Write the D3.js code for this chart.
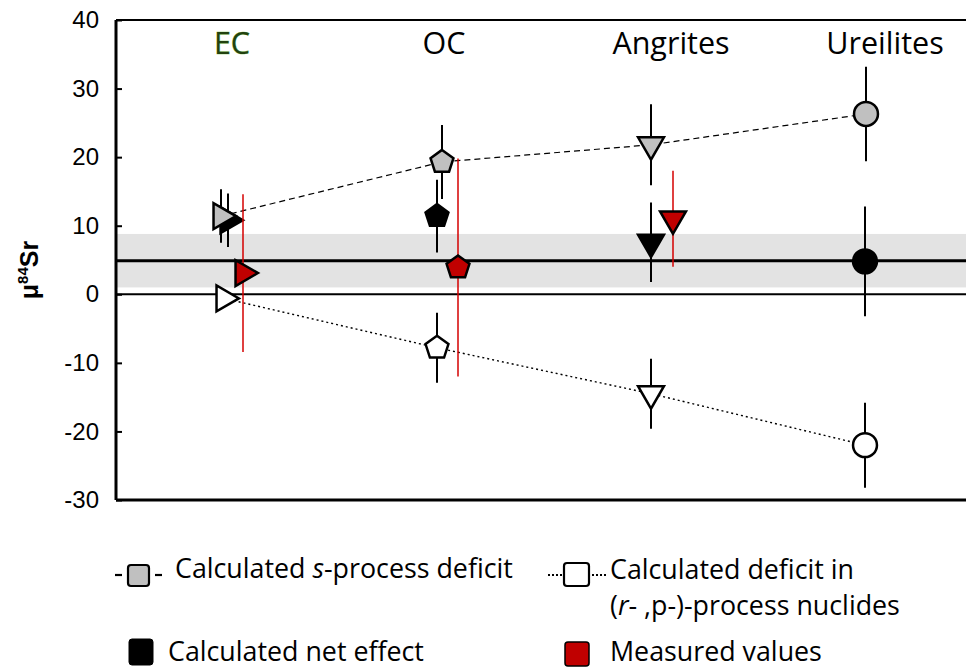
<!DOCTYPE html>
<html>
<head>
<meta charset="utf-8">
<script src="https://cdn.jsdelivr.net/npm/d3@7"></script>
<style>
  html, body { margin: 0; padding: 0; background: #fff; }
  svg { display: block; }
</style>
</head>
<body>
<svg id="chart" width="966" height="671"></svg>
<script>
// Sr-84 anomalies of meteorite groups: calculated components vs measured values
const categories = ["EC", "OC", "Angrites", "Ureilites"];

const sDeficit      = [11.4, 19.3, 21.8, 26.3];   // calculated s-process deficit
const sDeficitErr   = [3.9, 5.4, 5.9, 6.9];
const rpDeficit     = [-0.6, -7.8, -14.5, -22.0]; // calculated deficit in (r-,p-)-process nuclides
const rpDeficitErr  = [null, 5.1, 5.1, 6.2];
const netEffect     = [10.8, 11.4, 7.6, 4.8];     // calculated net effect
const netEffectErr  = [3.9, 5.3, 5.8, 8.0];
const measured      = [3.1, 3.9, 11.0, null];     // measured values
const measuredErr   = [11.5, 15.9, 7.0, null];

const refMean = 4.9;          // reference line
const refBand = [1.0, 8.8];   // reference range (shaded)

const yTicks = [-30, -20, -10, 0, 10, 20, 30, 40];

// ---- layout ----
const plot = { left: 116, right: 966, top: 20, bottom: 500 };

const svg = d3.select("#chart");

const x = d3.scalePoint().domain(categories).range([226, 865]);
const y = d3.scaleLinear().domain([-30, 40]).range([plot.bottom, plot.top]);

// small horizontal nudges so overlapping markers stay readable
const nudge = {
  s:   [-5, 3, -1, 1],
  net: [2, -2, -1, 0],
  rp:  [-2, -2, -1, 0],
  meas:[17, 19, 21, 0]
};

const GREY = "#c0c0c0", RED = "#c00000";
const uiFont = "'Open Sans', sans-serif";
const axisFont = "'Liberation Sans', Arial, sans-serif";

// custom pentagon symbol (point up, centred on circumcentre)
const pentagon = {
  draw(ctx, size) {
    const R = Math.sqrt(size);
    for (let i = 0; i < 5; i++) {
      const a = -Math.PI / 2 + i * 2 * Math.PI / 5;
      const px = R * Math.cos(a), py = R * Math.sin(a);
      if (i === 0) ctx.moveTo(px, py); else ctx.lineTo(px, py);
    }
    ctx.closePath();
  }
};

// marker shape per category
function markerPath(cat) {
  if (cat === "EC" || cat === "Angrites") return d3.symbol().type(d3.symbolTriangle).size(290)();
  if (cat === "OC") return d3.symbol().type(pentagon).size(145)();
  return d3.symbol().type(d3.symbolCircle).size(450)();
}
function markerRotate(cat) {
  if (cat === "EC") return 90;
  if (cat === "Angrites") return 180;
  return 0;
}

// ---- reference band and lines ----
svg.append("rect")
  .attr("x", plot.left).attr("width", plot.right - plot.left)
  .attr("y", y(refBand[1])).attr("height", y(refBand[0]) - y(refBand[1]))
  .attr("fill", "#e3e3e3");

svg.append("line")
  .attr("x1", plot.left).attr("x2", plot.right)
  .attr("y1", y(refMean)).attr("y2", y(refMean))
  .attr("stroke", "#000").attr("stroke-width", 3);

svg.append("line")
  .attr("x1", plot.left).attr("x2", plot.right)
  .attr("y1", y(0)).attr("y2", y(0))
  .attr("stroke", "#000").attr("stroke-width", 2);

// ---- frame and y axis ----
svg.append("line")
  .attr("x1", plot.left).attr("x2", plot.right)
  .attr("y1", plot.top).attr("y2", plot.top)
  .attr("stroke", "#000").attr("stroke-width", 2);

svg.append("line")
  .attr("x1", plot.left).attr("x2", plot.right)
  .attr("y1", plot.bottom).attr("y2", plot.bottom)
  .attr("stroke", "#000").attr("stroke-width", 3);

const yAxis = svg.append("g")
  .attr("transform", `translate(${plot.left},0)`)
  .call(d3.axisRight(y).tickValues(yTicks).tickSize(6).tickFormat(d => String(d)));
yAxis.select(".domain").attr("stroke-width", 3).attr("d", `M0,${plot.top}V${plot.bottom}`);
yAxis.selectAll(".tick line").attr("stroke-width", 2);
yAxis.selectAll(".tick text")
  .attr("x", -17).attr("text-anchor", "end")
  .attr("font-family", axisFont).attr("font-size", 24).attr("fill", "#000");

// y axis title: μ84Sr
const yTitle = svg.append("text")
  .attr("transform", "translate(38,270) rotate(-90)")
  .attr("text-anchor", "middle")
  .attr("font-family", axisFont).attr("font-weight", "bold").attr("font-size", 25);
yTitle.append("tspan").text("μ");
yTitle.append("tspan").attr("font-size", 15).attr("dy", -10).text("84");
yTitle.append("tspan").attr("dy", 10).text("Sr");

// ---- category labels ----
const labelDx = [6, 5, 19, 20];
svg.append("g").selectAll("text").data(categories).join("text")
  .attr("x", (d, i) => x(d) + labelDx[i])
  .attr("y", 54)
  .attr("text-anchor", "middle")
  .attr("font-family", uiFont).attr("font-size", 30.5)
  .attr("fill", d => d === "EC" ? "#22420f" : "#000")
  .attr("stroke", d => d === "EC" ? "#7cbf4a" : "none")
  .attr("stroke-width", 0.6)
  .attr("paint-order", "stroke")
  .text(d => d);

// ---- connecting lines ----
const pts = (vals, key) => categories.map((c, i) => [x(c) + nudge[key][i], y(vals[i])]);
const line = d3.line();

svg.append("path")
  .attr("d", line(pts(sDeficit, "s")))
  .attr("fill", "none").attr("stroke", "#000").attr("stroke-width", 1.2)
  .attr("stroke-dasharray", "6,4");

svg.append("path")
  .attr("d", line(pts(rpDeficit, "rp")))
  .attr("fill", "none").attr("stroke", "#000").attr("stroke-width", 1.4)
  .attr("stroke-dasharray", "2,3");

// ---- calculated series: error bars and markers ----
function drawSeries(vals, errs, key, fill, stroke, errColor, errWidth) {
  const g = svg.append("g");
  categories.forEach((c, i) => {
    if (vals[i] == null) return;
    const cx = x(c) + nudge[key][i];
    if (errs[i] != null) {
      g.append("line")
        .attr("x1", cx).attr("x2", cx)
        .attr("y1", y(vals[i] + errs[i])).attr("y2", y(vals[i] - errs[i]))
        .attr("stroke", errColor).attr("stroke-width", errWidth);
    }
  });
  categories.forEach((c, i) => {
    if (vals[i] == null) return;
    const cx = x(c) + nudge[key][i];
    g.append("path")
      .attr("d", markerPath(c))
      .attr("transform", `translate(${cx},${y(vals[i])}) rotate(${markerRotate(c)})`)
      .attr("fill", fill).attr("stroke", stroke).attr("stroke-width", 2.5)
      .attr("stroke-linejoin", "miter");
  });
}

drawSeries(netEffect, netEffectErr, "net", "#000", "#000", "#000", 2);
drawSeries(sDeficit, sDeficitErr, "s", GREY, "#000", "#000", 2);
drawSeries(rpDeficit, rpDeficitErr, "rp", "#fff", "#000", "#000", 2);
drawSeries(measured, measuredErr, "meas", RED, "#000", "#d40000", 1.5);

// ---- legend ----
const leg = svg.append("g").attr("font-family", uiFont).attr("font-size", 26.8).attr("fill", "#000");

// s-process deficit: "-[ ]-"
[[115, 122], [155, 162]].forEach(([a, b]) => {
  leg.append("line").attr("x1", a).attr("x2", b).attr("y1", 575).attr("y2", 575)
    .attr("stroke", "#000").attr("stroke-width", 2.2);
});
leg.append("rect").attr("x", 128).attr("y", 565).attr("width", 21).attr("height", 21).attr("rx", 3)
  .attr("fill", GREY).attr("stroke", "#000").attr("stroke-width", 2.2);
const t1 = leg.append("text").attr("x", 175).attr("y", 578);
t1.append("tspan").text("Calculated ");
t1.append("tspan").attr("font-style", "italic").text("s");
t1.append("tspan").text("-process deficit");

// (r-,p-)-process deficit: "...[ ]..."
[[548, 562], [592, 606]].forEach(([a, b]) => {
  leg.append("line").attr("x1", a).attr("x2", b).attr("y1", 575).attr("y2", 575)
    .attr("stroke", "#000").attr("stroke-width", 2).attr("stroke-dasharray", "2,2");
});
leg.append("rect").attr("x", 564).attr("y", 563).attr("width", 25).attr("height", 23).attr("rx", 3)
  .attr("fill", "#fff").attr("stroke", "#000").attr("stroke-width", 2.2);
leg.append("text").attr("x", 610).attr("y", 579).text("Calculated deficit in");
const t2 = leg.append("text").attr("x", 610).attr("y", 615);
t2.append("tspan").text("(");
t2.append("tspan").attr("font-style", "italic").text("r");
t2.append("tspan").text("- ,p-)-process nuclides");

// net effect
leg.append("rect").attr("x", 129).attr("y", 639).attr("width", 24).attr("height", 26).attr("rx", 3)
  .attr("fill", "#000").attr("stroke", "#000").attr("stroke-width", 1);
leg.append("text").attr("x", 168).attr("y", 661).text("Calculated net effect");

// measured
leg.append("rect").attr("x", 565).attr("y", 642).attr("width", 24).attr("height", 24).attr("rx", 3)
  .attr("fill", RED).attr("stroke", "#000").attr("stroke-width", 1.5);
leg.append("text").attr("x", 610).attr("y", 661).text("Measured values");
</script>
</body>
</html>
